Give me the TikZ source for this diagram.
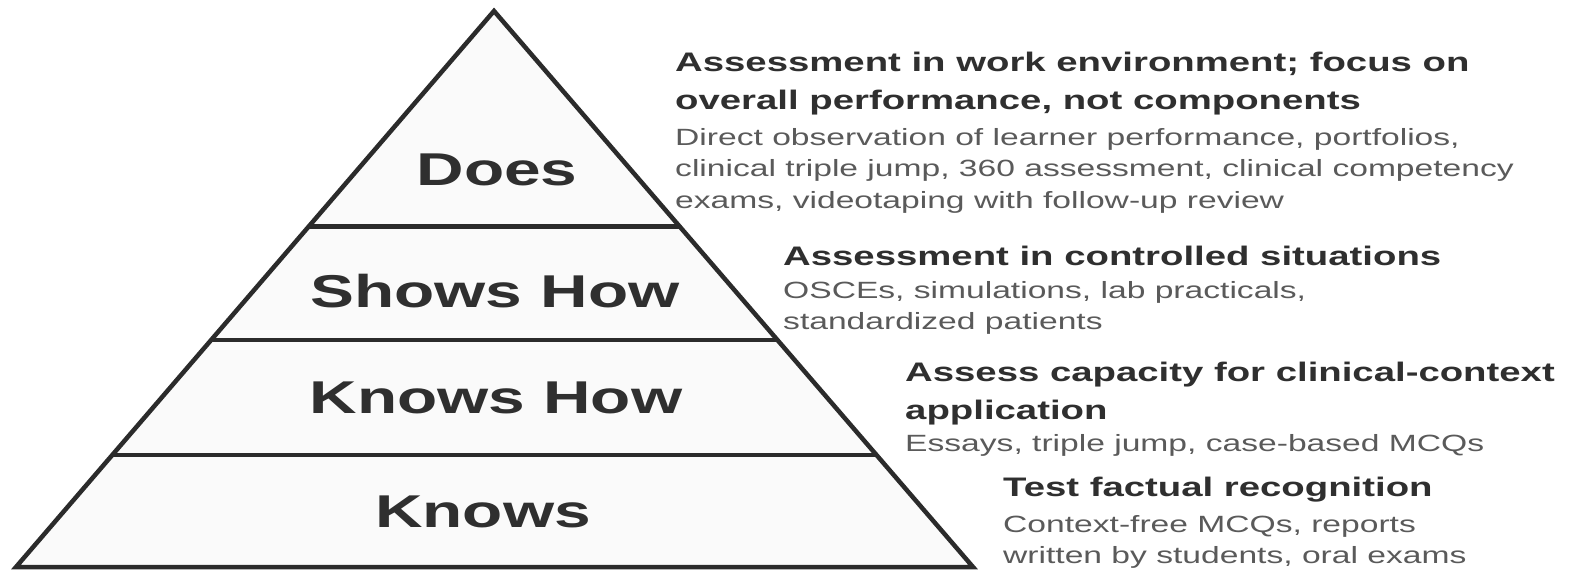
\documentclass[tikz,border=0pt]{standalone}
\usepackage{fontspec}
\usepackage{tikz}
\usetikzlibrary{calc,positioning}

% wide sans faces
\newfontfamily\pyrfont{Liberation Sans}[FakeStretch=1.43]
\definecolor{edgegray}{HTML}{2B2B2B}
\definecolor{headgray}{HTML}{2F2F2F}
\definecolor{bodygray}{HTML}{5A5A5A}

\tikzset{
    level/.style={font=\pyrfont\bfseries\fontsize{46}{50}\selectfont, text=headgray, anchor=base, inner sep=0pt},
    head/.style={font=\pyrfont\bfseries\fontsize{26.8}{38}\selectfont, text=headgray, align=left, anchor=north west, inner sep=0pt},
    body/.style={font=\pyrfont\fontsize{23.5}{31.5}\selectfont, text=bodygray, align=left, anchor=north west, inner sep=0pt},
    edge/.style={draw=edgegray, line width=4.5pt}
}

\begin{document}
\begin{tikzpicture}[x=1pt, y=-1pt]
    \useasboundingbox[fill=white] (0,0) rectangle (1577,573);

    % pyramid outline
    \coordinate (top) at (494,11);
    \coordinate (bl) at (16,567);
    \coordinate (br) at (973,567);
    \fill[black!2] (top) -- (bl) -- (br) -- cycle;
    \draw[edge, line join=miter] (top) -- (bl) -- (br) -- cycle;
    \draw[edge] ($(top)!0.388!(bl)$) -- ($(top)!0.388!(br)$);
    \draw[edge] ($(top)!0.592!(bl)$) -- ($(top)!0.592!(br)$);
    \draw[edge] ($(top)!0.799!(bl)$) -- ($(top)!0.799!(br)$);

    % levels
    \node[level] (does) at (497,185) {Does};
    \node[level] (shows) at (495,307) {Shows How};
    \node[level] (knowshow) at (496,413) {Knows How};
    \node[level] (knows) at (483,527) {Knows};

    % assessment notes
    \node[head] (hdoes) at (675,52) {Assessment in work environment; focus on\\overall performance, not components};
    \node[body] (bdoes) at (675,128) {Direct observation of learner performance, portfolios,\\clinical triple jump, 360 assessment, clinical competency\\exams, videotaping with follow-up review};

    \node[head] (hshows) at (783,246) {Assessment in controlled situations};
    \node[body] (bshows) at (783,281) {OSCEs, simulations, lab practicals,\\standardized patients};

    \node[head] (hknowshow) at (905,362) {Assess capacity for clinical-context\\application};
    \node[body] (bknowshow) at (905,434) {Essays, triple jump, case-based MCQs};

    \node[head] (hknows) at (1003,477) {Test factual recognition};
    \node[body] (bknows) at (1003,515) {Context-free MCQs, reports\\written by students, oral exams};
\end{tikzpicture}
\end{document}
